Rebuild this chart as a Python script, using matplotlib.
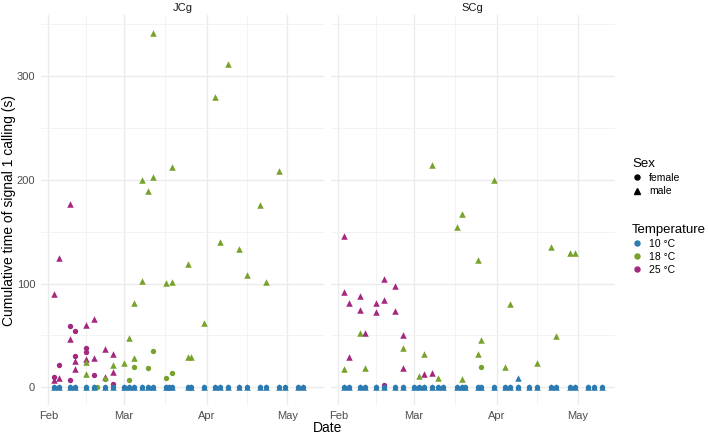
import numpy as np
import pandas as pd
import matplotlib
matplotlib.use("Agg")
import matplotlib.pyplot as plt
import matplotlib.dates as mdates
from matplotlib.lines import Line2D

plt.rcParams['font.family'] = ['Liberation Sans', 'DejaVu Sans']

YEAR = "2019-"

# dates where 10 °C animals were recorded (value 0 for both sexes)
jcg_10_dates = ["02-03", "02-05", "02-09", "02-11", "02-15", "02-18", "02-22", "02-25",
                "03-01", "03-03", "03-05", "03-08", "03-10", "03-12", "03-17", "03-18",
                "03-19", "03-25", "03-26", "03-31", "04-04", "04-06", "04-09", "04-13",
                "04-16", "04-21", "04-23", "04-28", "04-30", "05-05", "05-07"]
scg_10_dates = ["02-03", "02-05", "02-09", "02-11", "02-15", "02-18", "02-22", "02-25",
                "03-01", "03-03", "03-05", "03-08", "03-10", "03-12", "03-17", "03-19",
                "03-20", "03-25", "03-26", "03-31", "04-04", "04-06", "04-09", "04-13",
                "04-16", "04-21", "04-23", "04-28", "04-30", "05-05", "05-07", "05-10"]
scg_10_male_extra_dates = ["04-09"]
scg_10_male_extra_vals = [8.7]

# JCg
jcg_25_f_dates = ["02-09", "02-11", "02-15", "02-15", "02-11", "02-05", "02-18", "02-03", "02-09", "02-25"]
jcg_25_f_vals = [59.2, 54.7, 37.6, 33.8, 30.5, 21.5, 11.6, 9.9, 7.4, 2.9]
jcg_25_m_dates = ["02-09", "02-05", "02-03", "02-15", "02-18", "02-09", "02-11", "02-22",
                  "02-25", "02-18", "02-15", "02-11", "02-25", "02-22", "02-03", "02-05"]
jcg_25_m_vals = [176.9, 124.5, 90.1, 60.1, 65.6, 46.9, 25.7, 37.3,
                 32.4, 28.6, 27.6, 18.0, 15.1, 10.3, 6.7, 9.0]
jcg_18_f_dates = ["02-19", "02-22", "03-03", "03-05", "03-10", "03-12", "03-17", "03-19"]
jcg_18_f_vals = [0, 7.7, 7.0, 19.9, 18.3, 35.3, 9.0, 13.5]
jcg_18_m_dates = ["02-15", "02-15", "02-25", "03-01", "03-03", "03-05", "03-05", "03-08", "03-08",
                  "03-10", "03-12", "03-12", "03-17", "03-19", "03-19", "03-25", "03-25", "03-26",
                  "03-31", "04-04", "04-06", "04-09", "04-13", "04-16", "04-21", "04-23", "04-28"]
jcg_18_m_vals = [24.1, 12.5, 21.5, 23.8, 47.3, 81, 28.6, 200.4, 102.6,
                 189.5, 341.7, 202.7, 100.4, 212.4, 101.6, 119.3, 29.2, 29.2,
                 62.4, 279.9, 140.3, 311.8, 133.2, 108.1, 175.7, 101.6, 208.8]

# SCg
scg_25_f_dates = ["02-18"]
scg_25_f_vals = [2.2]
scg_25_m_dates = ["02-03", "02-03", "02-05", "02-05", "02-09", "02-09", "02-11", "02-15", "02-15",
                  "02-18", "02-18", "02-22", "02-22", "02-25", "02-25", "03-05", "03-08"]
scg_25_m_vals = [146.0, 92.0, 81.7, 29.0, 87.8, 74.3, 52.1, 81.7, 72.4,
                 104.2, 84.0, 97.5, 73.4, 50.5, 18.3, 12.8, 13.5]
scg_18_f_dates = ["03-26"]
scg_18_f_vals = [19.3]
scg_18_m_dates = ["02-03", "02-09", "02-11", "02-25", "03-03", "03-05", "03-10", "03-08",
                  "03-17", "03-19", "03-19", "03-25", "03-25", "03-26", "03-31", "04-04",
                  "04-06", "04-16", "04-21", "04-23", "04-28", "04-30"]
scg_18_m_vals = [17.4, 52.7, 18.3, 37.6, 11.2, 32.1, 9.3, 214.6,
                 154.4, 167.3, 8.0, 122.9, 32.4, 45.4, 200.1, 19.9,
                 80.4, 23.2, 135.7, 49.2, 129.9, 129.3]

panels = ["JCg", "SCg"]
temps = ["10 °C", "18 °C", "25 °C"]
colors = {"10 °C": "#2C7BB0", "18 °C": "#77A22B", "25 °C": "#A3287F"}


def d(lst):
    return pd.to_datetime([YEAR + s for s in lst])


data = {
    "JCg": {
        "25 °C": {"female": (jcg_25_f_dates, jcg_25_f_vals), "male": (jcg_25_m_dates, jcg_25_m_vals)},
        "18 °C": {"female": (jcg_18_f_dates, jcg_18_f_vals), "male": (jcg_18_m_dates, jcg_18_m_vals)},
        "10 °C": {"female": (jcg_10_dates, [0] * len(jcg_10_dates)),
                  "male": (jcg_10_dates, [0] * len(jcg_10_dates))},
    },
    "SCg": {
        "25 °C": {"female": (scg_25_f_dates, scg_25_f_vals), "male": (scg_25_m_dates, scg_25_m_vals)},
        "18 °C": {"female": (scg_18_f_dates, scg_18_f_vals), "male": (scg_18_m_dates, scg_18_m_vals)},
        "10 °C": {"female": (scg_10_dates, [0] * len(scg_10_dates)),
                  "male": (scg_10_dates + scg_10_male_extra_dates,
                           [0] * len(scg_10_dates) + scg_10_male_extra_vals)},
    },
}

fig = plt.figure(figsize=(7.08, 4.37), dpi=100)
ax1 = fig.add_axes([0.0576, 0.0732, 0.4006, 0.8918])
ax2 = fig.add_axes([0.4672, 0.0732, 0.4011, 0.8918], sharex=ax1, sharey=ax1)

# shared limits with ggplot-style 5% expansion
all_dates = d(jcg_10_dates + scg_10_dates)
xmin, xmax = mdates.date2num(all_dates.min()), mdates.date2num(all_dates.max())
xpad = (xmax - xmin) * 0.05
ymax = max(jcg_18_m_vals + scg_18_m_vals + jcg_25_m_vals)
ypad = ymax * 0.05

major = pd.to_datetime([YEAR + m for m in ["02-01", "03-01", "04-01", "05-01"]])
major_n = mdates.date2num(major)
minor_n = (major_n[:-1] + major_n[1:]) / 2

for ax, panel in zip([ax1, ax2], panels):
    for t in ["25 °C", "18 °C", "10 °C"]:
        for sex, mk, sz in [("male", "^", 22), ("female", "o", 15)]:
            dates, vals = data[panel][t][sex]
            ax.scatter(d(dates), vals, marker=mk, s=sz, color=colors[t],
                       linewidths=0, zorder=3)
    ax.set_xlim(xmin - xpad, xmax + xpad)
    ax.set_ylim(-ypad, ymax + ypad)
    ax.set_xticks(major_n)
    ax.set_xticks(minor_n, minor=True)
    ax.set_yticks([0, 100, 200, 300])
    ax.set_yticks([50, 150, 250, 350], minor=True)
    ax.xaxis.set_major_formatter(mdates.DateFormatter("%b"))
    ax.grid(which="major", color="#EBEBEB", lw=1.0)
    ax.grid(which="minor", color="#F1F1F1", lw=0.6)
    ax.set_axisbelow(True)
    for s in ax.spines.values():
        s.set_visible(False)
    ax.tick_params(which="both", length=0, labelsize=8, labelcolor="#4D4D4D", pad=4)
    ax.set_title(panel, fontsize=8, color="#1A1A1A", pad=3)

ax2.tick_params(labelleft=False)
fig.text(0.013, 0.519, "Cumulative time of signal 1 calling (s)", rotation=90,
         ha="center", va="center", fontsize=10)
fig.text(0.4624, 0.021, "Date", ha="center", va="center", fontsize=10)

sex_handles = [Line2D([], [], marker="o", ls="", color="black", ms=3.6),
               Line2D([], [], marker="^", ls="", color="black", ms=4.2)]
leg1 = fig.legend(sex_handles, ["female", "male"], title="Sex", loc="upper left",
                  bbox_to_anchor=(0.887, 0.648), frameon=False, fontsize=7.5,
                  title_fontsize=9.5, handlelength=1.0, handletextpad=0.6,
                  labelspacing=0.3, alignment="left", borderaxespad=0)
temp_handles = [Line2D([], [], marker="o", ls="", color=colors[t], ms=3.6) for t in temps]
leg2 = fig.legend(temp_handles, temps, title="Temperature", loc="upper left",
                  bbox_to_anchor=(0.887, 0.498), frameon=False, fontsize=7.5,
                  title_fontsize=9.5, handlelength=1.0, handletextpad=0.6,
                  labelspacing=0.3, alignment="left", borderaxespad=0)

fig.savefig("out.png", dpi=100)
